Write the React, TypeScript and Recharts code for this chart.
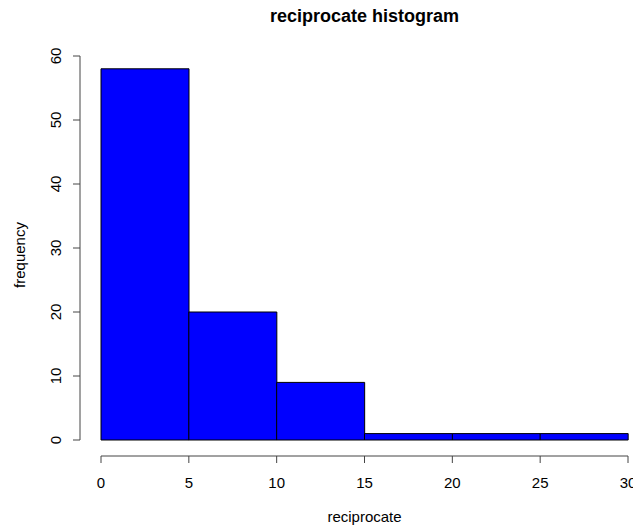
import React from 'react';
import { ComposedChart, Bar, Line, XAxis, YAxis, Label } from 'recharts';

// histogram bins (width 5) and their counts
const bins = ['0-5', '5-10', '10-15', '15-20', '20-25', '25-30'];
const binStarts = [0, 5, 10, 15, 20, 25];
const counts = [58, 20, 9, 1, 1, 1];
const xTicks = [0, 5, 10, 15, 20, 25, 30];
const yTicks = [0, 10, 20, 30, 40, 50, 60];

const data = bins.map((bin, i) => ({ bin, start: binStarts[i], count: counts[i] }));

const FONT = '"Liberation Sans", Arial, sans-serif';

const YTick = ({ x, y, payload }: any) => (
  <text
    x={x}
    y={y}
    transform={`rotate(-90, ${x}, ${y})`}
    textAnchor='middle'
    fontSize={15}
    fontFamily={FONT}
    fill='#000'
  >
    {payload.value}
  </text>
);

const XTitle = ({ viewBox }: any) => (
  <text
    x={viewBox.x + viewBox.width / 2}
    y={viewBox.y + 66}
    textAnchor='middle'
    fontSize={15}
    fontFamily={FONT}
    fill='#000'
  >
    reciprocate
  </text>
);

const YTitle = ({ viewBox }: any) => {
  const x = viewBox.x + 4.5;
  const y = viewBox.y + viewBox.height / 2 + 7;
  return (
    <text
      x={x}
      y={y}
      transform={`rotate(-90, ${x}, ${y})`}
      textAnchor='middle'
      fontSize={15}
      fontFamily={FONT}
      fill='#000'
    >
      frequency
    </text>
  );
};

export default function App() {
  return (
    <div style={{ position: 'absolute', left: 0, top: 0, width: 633, height: 528, background: '#fff' }}>
      <div
        style={{
          position: 'absolute',
          left: 101,
          top: 6,
          width: 527,
          textAlign: 'center',
          fontFamily: FONT,
          fontWeight: 'bold',
          fontSize: 18,
          lineHeight: '20px',
          color: '#000',
        }}
      >
        reciprocate histogram
      </div>
      <ComposedChart
        width={633}
        height={528}
        data={data}
        margin={{ top: 56, right: 5, bottom: 12, left: 20 }}
        barCategoryGap={0}
        barGap={0}
      >
        {/* spacer axes: keep the drawn axes off the plot like R does */}
        <XAxis dataKey='bin' height={16} tick={false} axisLine={false} tickLine={false} />
        <XAxis
          xAxisId='num'
          dataKey='start'
          type='number'
          domain={[0, 30]}
          ticks={xTicks}
          interval={0}
          allowDataOverflow
          height={60}
          tickSize={7}
          tickMargin={14}
          stroke='#444'
          tick={{ fontSize: 15, fontFamily: FONT, fill: '#000' }}
        >
          <Label content={<XTitle />} />
        </XAxis>
        <YAxis type='number' domain={[0, 60]} width={21} tick={false} axisLine={false} tickLine={false} />
        <YAxis
          yAxisId='vis'
          type='number'
          domain={[0, 60]}
          ticks={yTicks}
          interval={0}
          allowDataOverflow
          width={60}
          tickSize={7}
          tickMargin={12}
          stroke='#444'
          tick={<YTick />}
        >
          <Label content={<YTitle />} />
        </YAxis>
        <Bar dataKey='count' fill='#0000FF' stroke='#000' strokeWidth={1} isAnimationActive={false} />
        {/* invisible series so the drawn axes get their scales */}
        <Line
          xAxisId='num'
          yAxisId='vis'
          dataKey='count'
          stroke='none'
          dot={false}
          activeDot={false}
          legendType='none'
          isAnimationActive={false}
        />
      </ComposedChart>
    </div>
  );
}
